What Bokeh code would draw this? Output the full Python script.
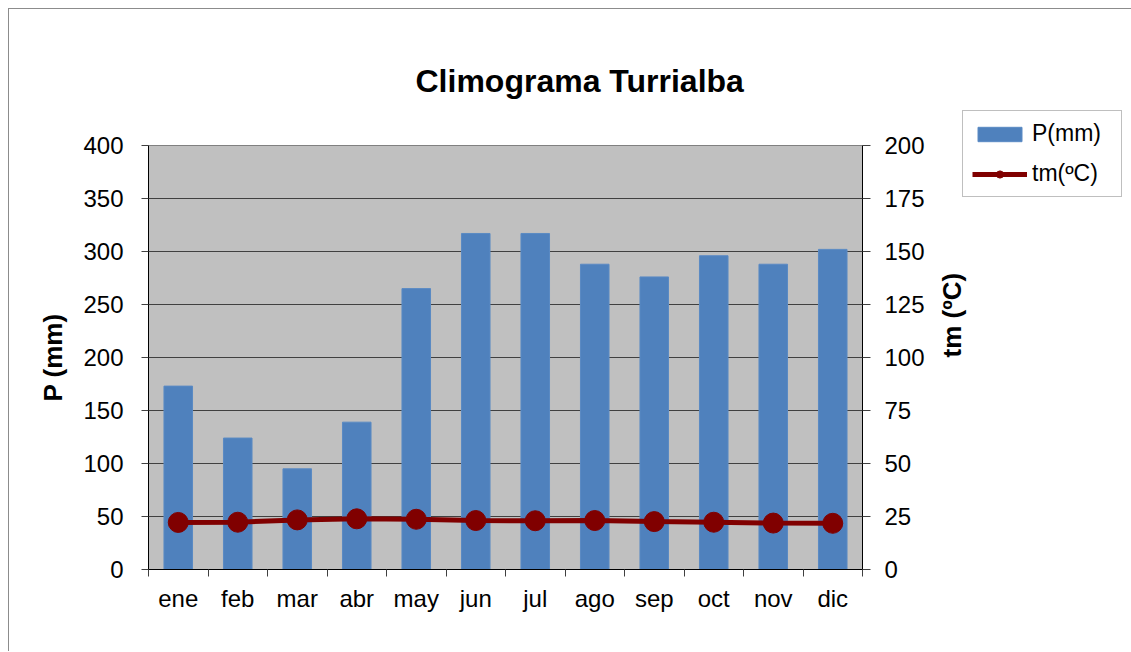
import math
from bokeh.plotting import figure
from bokeh.models import (Range1d, LinearAxis, FixedTicker, Legend, LegendItem,
                          Title, ColumnDataSource)
from bokeh.embed import file_html
from bokeh.resources import INLINE

months = ["ene", "feb", "mar", "abr", "may", "jun", "jul", "ago", "sep", "oct", "nov", "dic"]
precip_mm = [173, 124, 95, 139, 265, 317, 317, 288, 276, 296, 288, 302]
temp_c = [22.2, 22.3, 23.4, 23.9, 23.7, 23.1, 23.0, 23.1, 22.6, 22.3, 21.9, 21.8]
p_ticks = [0, 50, 100, 150, 200, 250, 300, 350, 400]
t_ticks = [0, 25, 50, 75, 100, 125, 150, 175, 200]

xc = [i + 0.5 for i in range(len(months))]
src = ColumnDataSource(dict(x=xc, p=precip_mm, t=temp_c, m=months))

FONT = "Liberation Sans"

p = figure(frame_width=714, frame_height=424,
           min_border_left=139, min_border_top=136,
           min_border_right=60, min_border_bottom=82,
           x_range=Range1d(0, 12), y_range=Range1d(0, 400),
           output_backend="svg", toolbar_location=None,
           background_fill_color="#C0C0C0", border_fill_color="white",
           margin=(8, 0, 0, 8))
p.styles = {"border-left": "1px solid #8c8c8c", "border-top": "1px solid #8c8c8c"}
p.outline_line_color = "#808080"
p.extra_y_ranges = {"tm": Range1d(0, 200)}

bars = p.vbar(x="x", top="p", bottom=0, width=0.48, source=src,
              fill_color="#4F81BD", line_color="#5A8AC4", line_width=1)
line = p.line(x="x", y="t", source=src, y_range_name="tm",
              line_color="#800000", line_width=5)
pts = p.scatter(x="x", y="t", source=src, y_range_name="tm",
                size=20, fill_color="#800000", line_color="#800000")

# x axis
xa = p.xaxis[0]
xa.ticker = FixedTicker(ticks=xc, minor_ticks=list(range(13)))
xa.major_label_overrides = {x: m for x, m in zip(xc, months)}
xa.major_tick_out = 0
xa.major_tick_in = 0
xa.minor_tick_out = 7
xa.minor_tick_in = 0
xa.minor_tick_line_color = "#404040"
xa.major_label_standoff = 8
xa.major_label_text_font = FONT
xa.major_label_text_font_size = "24px"
xa.major_label_text_color = "black"
xa.axis_line_color = "black"

# left axis
ya = p.yaxis[0]
ya.ticker = FixedTicker(ticks=p_ticks)
ya.minor_tick_line_color = None
ya.major_tick_out = 7
ya.major_tick_in = 0
ya.major_tick_line_color = "#404040"
ya.major_label_standoff = 18
ya.major_label_text_font = FONT
ya.major_label_text_font_size = "24px"
ya.major_label_text_color = "black"
ya.axis_line_color = "black"
ya.axis_label = "P (mm)"
ya.axis_label_text_font = FONT
ya.axis_label_text_font_size = "26px"
ya.axis_label_text_font_style = "bold"
ya.axis_label_text_color = "black"
ya.axis_label_standoff = 12

# right axis
ra = LinearAxis(y_range_name="tm", ticker=FixedTicker(ticks=t_ticks))
ra.minor_tick_line_color = None
ra.major_tick_out = 8
ra.major_tick_in = 0
ra.major_tick_line_color = "#404040"
ra.major_label_standoff = 14
ra.major_label_text_font = FONT
ra.major_label_text_font_size = "24px"
ra.major_label_text_color = "black"
ra.axis_line_color = "black"
ra.axis_label = "tm (ºC)"
ra.axis_label_text_font = FONT
ra.axis_label_text_font_size = "26px"
ra.axis_label_text_font_style = "bold"
ra.axis_label_text_color = "black"
ra.axis_label_standoff = 24
try:
    ra.axis_label_orientation = math.pi / 2
except Exception:
    pass
p.add_layout(ra, "right")

p.xgrid.grid_line_color = None
p.ygrid.grid_line_color = "#404040"
p.ygrid.grid_line_width = 1

# title (spacer first, then the title above it)
p.add_layout(Title(text=" ", text_font_size="26px"), "above")
p.add_layout(Title(text="Climograma Turrialba", align="left", offset=267,
                   text_font=FONT, text_font_size="32px",
                   text_font_style="bold", text_color="black"), "above")

legend = Legend(items=[LegendItem(label="P(mm)", renderers=[bars]),
                       LegendItem(label="tm(ºC)", renderers=[line, pts])],
                location=(-245, 372), orientation="vertical",
                glyph_width=55, glyph_height=18, label_height=20,
                label_width=80,
                spacing=13, padding=9, margin=0, label_standoff=5,
                label_text_font=FONT, label_text_font_size="23px",
                label_text_color="black",
                border_line_color="#808080", border_line_width=1,
                background_fill_color="white", background_fill_alpha=1)
p.add_layout(legend, "right")

open("out.html", "w").write(file_html(p, INLINE))
